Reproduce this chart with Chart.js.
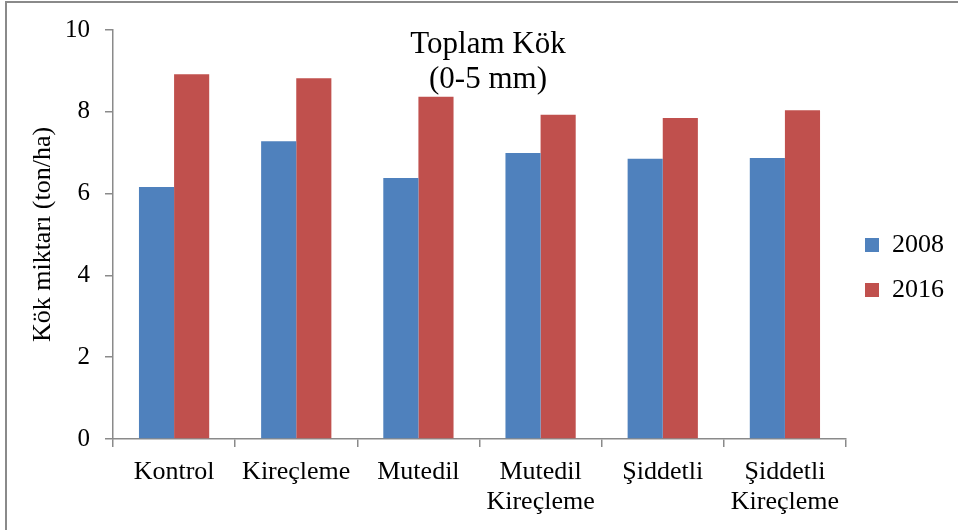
<!DOCTYPE html>
<html>
<head>
<meta charset="utf-8">
<script src="https://cdn.jsdelivr.net/npm/chart.js@4/dist/chart.umd.min.js"></script>
<style>
  html, body { margin: 0; padding: 0; background: #fff; }
  #wrap { width: 958px; height: 530px; position: relative; }
</style>
</head>
<body>
<div id="wrap"><canvas id="c"></canvas></div>
<script>
// Treatments (x categories), multi-line where the label wraps
const categories = [
  ["Kontrol"],
  ["Kireçleme"],
  ["Mutedil"],
  ["Mutedil", "Kireçleme"],
  ["Şiddetli"],
  ["Şiddetli", "Kireçleme"]
];
const seriesNames = ["2008", "2016"];
const values2008 = [6.16, 7.28, 6.38, 6.99, 6.85, 6.87];
const values2016 = [8.92, 8.82, 8.37, 7.93, 7.85, 8.04];
const yTicks = [0, 2, 4, 6, 8, 10];
const titleLines = ["Toplam Kök", "(0-5 mm)"];
const yAxisTitle = "Kök miktarı (ton/ha)";

const SERIF = "'Liberation Serif', 'Times New Roman', serif";
const AXIS_GRAY = "#8a8a8a";

// Outer frame (only top and left edges are visible) on a white background
const framePlugin = {
  id: "frame",
  beforeDraw(chart) {
    const ctx = chart.ctx;
    ctx.save();
    ctx.fillStyle = "#fff";
    ctx.fillRect(0, 0, chart.width, chart.height);
    ctx.strokeStyle = AXIS_GRAY;
    ctx.lineWidth = 2;
    ctx.beginPath();
    ctx.moveTo(6, chart.height);
    ctx.lineTo(6, 2);
    ctx.lineTo(chart.width, 2);
    ctx.stroke();
    ctx.restore();
  }
};

// Legend column is centred a little above the canvas middle
const legendPlacement = {
  id: "legendPlacement",
  afterLayout(chart) {
    const lg = chart.legend;
    if (lg) {
      lg.bottom -= 24;
      lg.height = lg.bottom - lg.top;
    }
  }
};

// Two-line title overlaid inside the plot area
const overlayTitle = {
  id: "overlayTitle",
  afterDraw(chart) {
    const ctx = chart.ctx;
    ctx.save();
    ctx.fillStyle = "#000";
    ctx.font = "31px " + SERIF;
    ctx.textAlign = "center";
    ctx.textBaseline = "alphabetic";
    ctx.fillText(titleLines[0], 488, 53);
    ctx.fillText(titleLines[1], 488, 88);
    ctx.restore();
  }
};

new Chart(document.getElementById("c"), {
  type: "bar",
  data: {
    labels: categories,
    datasets: [
      { label: seriesNames[0], data: values2008, backgroundColor: "#4F81BD", borderWidth: 0 },
      { label: seriesNames[1], data: values2016, backgroundColor: "#C0504D", borderWidth: 0 }
    ]
  },
  options: {
    responsive: true,
    maintainAspectRatio: false,
    animation: false,
    devicePixelRatio: 1,
    datasets: { bar: { categoryPercentage: 0.575, barPercentage: 1.0 } },
    layout: { padding: { top: 29, left: 0, right: 4, bottom: 0 } },
    plugins: {
      legend: {
        position: "right",
        labels: {
          boxWidth: 14,
          boxHeight: 14,
          padding: 19,
          color: "#000",
          font: { family: SERIF, size: 26 }
        }
      },
      tooltip: { enabled: false },
      title: { display: false }
    },
    scales: {
      x: {
        grid: { display: true, drawOnChartArea: false, offset: true, color: AXIS_GRAY, lineWidth: 1.5, tickLength: 8 },
        border: { color: AXIS_GRAY, width: 1.5 },
        ticks: {
          color: "#000",
          font: { family: SERIF, size: 26, lineHeight: 1.17 },
          padding: 10,
          maxRotation: 0,
          autoSkip: false
        },
        afterFit(scale) { scale.height = 91; }
      },
      y: {
        min: 0,
        max: 10,
        afterBuildTicks(scale) { scale.ticks = yTicks.map(v => ({ value: v })); },
        grid: { display: true, drawOnChartArea: false, color: AXIS_GRAY, lineWidth: 1.5, tickLength: 8 },
        border: { color: AXIS_GRAY, width: 1.5 },
        ticks: {
          color: "#000",
          font: { family: SERIF, size: 25 },
          padding: 15
        },
        title: {
          display: true,
          text: yAxisTitle,
          color: "#000",
          font: { family: SERIF, size: 26 },
          padding: { top: 28, bottom: 0 }
        },
        afterFit(scale) { scale.width = 113; }
      }
    }
  },
  plugins: [framePlugin, legendPlacement, overlayTitle]
});
</script>
</body>
</html>
